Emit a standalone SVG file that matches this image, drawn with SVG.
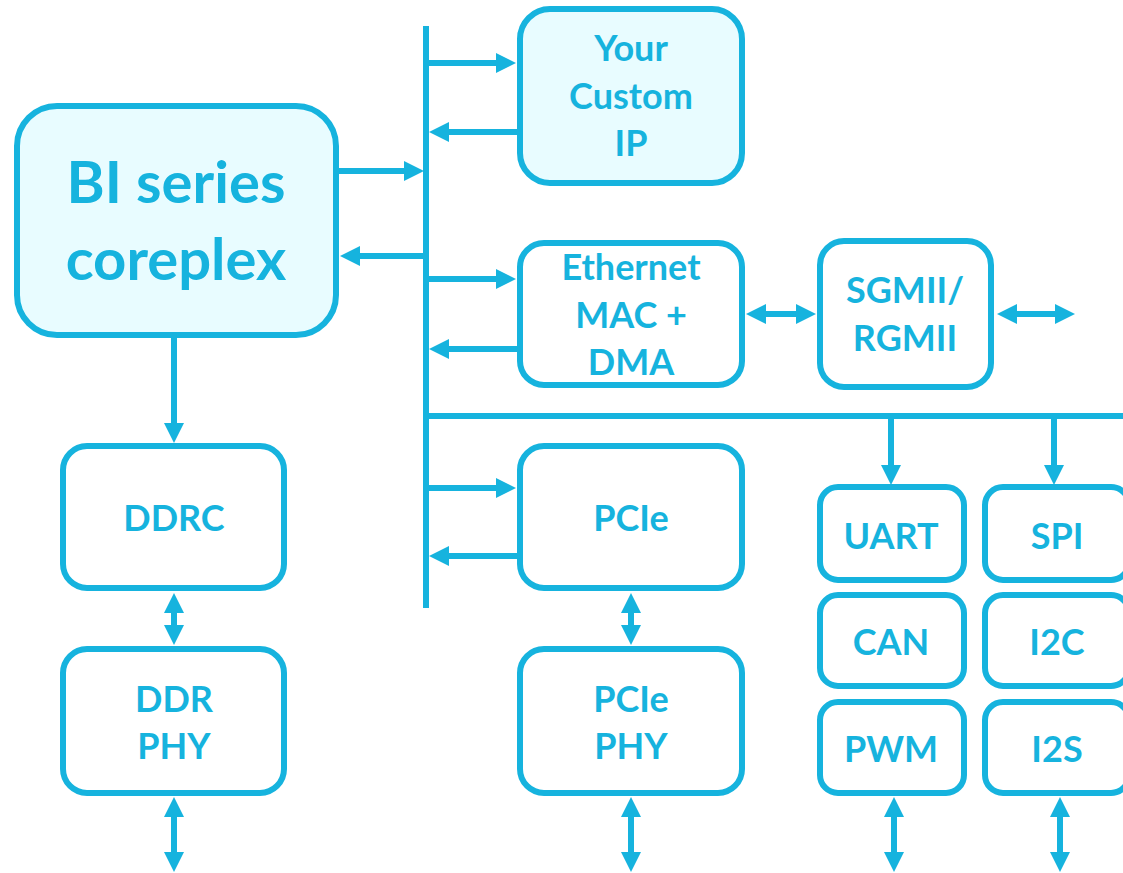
<svg xmlns="http://www.w3.org/2000/svg" width="1123" height="873" viewBox="0 0 1123 873">
<style>
.box{fill:#fff;stroke:#16B3DE;stroke-width:6}
.hl{fill:#E8FCFF}
.t{font-family:Lato,"Open Sans",sans-serif;font-weight:bold;font-size:36px;fill:#16B3DE;text-anchor:middle}
.big{font-size:58px}
.ln{stroke:#16B3DE;stroke-width:6;fill:none}
.a{marker-end:url(#ah)}
.d{marker-start:url(#ah);marker-end:url(#ah)}
</style>
<defs>
<marker id="ah" markerUnits="userSpaceOnUse" markerWidth="20" markerHeight="20" refX="6" refY="10" orient="auto-start-reverse" viewBox="0 0 20 20">
<path d="M0,0 L20,10 L0,20 z" fill="#16B3DE"/>
</marker>
</defs>
<rect width="1123" height="873" fill="#fff"/>
<g id="connectors">
<line class="ln" x1="426" y1="26" x2="426" y2="608"/>
<line class="ln" x1="426" y1="416" x2="1123" y2="416"/>
<line class="ln a" x1="429" y1="63" x2="502" y2="63"/>
<line class="ln a" x1="517" y1="132" x2="443" y2="132"/>
<line class="ln a" x1="339" y1="171" x2="410" y2="171"/>
<line class="ln a" x1="424" y1="256" x2="354" y2="256"/>
<line class="ln a" x1="429" y1="279" x2="502" y2="279"/>
<line class="ln a" x1="517" y1="349" x2="443" y2="349"/>
<line class="ln d" x1="760" y1="314" x2="802" y2="314"/>
<line class="ln d" x1="1011" y1="314" x2="1061" y2="314"/>
<line class="ln a" x1="429" y1="488" x2="502" y2="488"/>
<line class="ln a" x1="517" y1="556" x2="443" y2="556"/>
<line class="ln a" x1="174" y1="338" x2="174" y2="429"/>
<line class="ln d" x1="174" y1="607" x2="174" y2="631"/>
<line class="ln d" x1="174" y1="811" x2="174" y2="858"/>
<line class="ln d" x1="631" y1="607" x2="631" y2="631"/>
<line class="ln d" x1="631" y1="811" x2="631" y2="858"/>
<line class="ln a" x1="891" y1="416" x2="891" y2="471"/>
<line class="ln a" x1="1054" y1="416" x2="1054" y2="471"/>
<line class="ln d" x1="894" y1="811" x2="894" y2="858"/>
<line class="ln d" x1="1060" y1="811" x2="1060" y2="858"/>
</g>
<g id="coreplex"><rect class="box hl" x="17" y="106" width="319" height="229" rx="40"/><text class="t big" x="176" y="203">BI series</text><text class="t big" x="176" y="280">coreplex</text></g>
<g id="custom-ip"><rect class="box hl" x="520" y="9" width="222" height="174" rx="30"/><text class="t" x="631" y="61">Your</text><text class="t" x="631" y="109">Custom</text><text class="t" x="631" y="156">IP</text></g>
<g id="ethernet"><rect class="box" x="520" y="243" width="222" height="142" rx="24"/><text class="t" x="631" y="280">Ethernet</text><text class="t" x="631" y="328">MAC +</text><text class="t" x="631" y="375">DMA</text></g>
<g id="sgmii"><rect class="box" x="820" y="241" width="171" height="146" rx="24"/><text class="t" x="905" y="303">SGMII/</text><text class="t" x="905" y="351">RGMII</text></g>
<g id="ddrc"><rect class="box" x="63" y="446" width="221" height="142" rx="24"/><text class="t" x="174" y="531">DDRC</text></g>
<g id="ddr-phy"><rect class="box" x="63" y="649" width="221" height="144" rx="24"/><text class="t" x="174" y="712">DDR</text><text class="t" x="174" y="759">PHY</text></g>
<g id="pcie"><rect class="box" x="520" y="446" width="222" height="142" rx="24"/><text class="t" x="631" y="531">PCIe</text></g>
<g id="pcie-phy"><rect class="box" x="520" y="649" width="222" height="144" rx="24"/><text class="t" x="631" y="712">PCIe</text><text class="t" x="631" y="759">PHY</text></g>
<g id="uart"><rect class="box" x="820" y="487" width="144" height="93" rx="18"/><text class="t" x="891" y="549">UART</text></g>
<g id="spi"><rect class="box" x="985" y="487" width="144" height="93" rx="18"/><text class="t" x="1057" y="549">SPI</text></g>
<g id="can"><rect class="box" x="820" y="595" width="144" height="91" rx="18"/><text class="t" x="891" y="655">CAN</text></g>
<g id="i2c"><rect class="box" x="985" y="595" width="144" height="91" rx="18"/><text class="t" x="1057" y="655">I2C</text></g>
<g id="pwm"><rect class="box" x="820" y="702" width="144" height="91" rx="18"/><text class="t" x="891" y="762">PWM</text></g>
<g id="i2s"><rect class="box" x="985" y="702" width="144" height="91" rx="18"/><text class="t" x="1057" y="762">I2S</text></g>
</svg>
